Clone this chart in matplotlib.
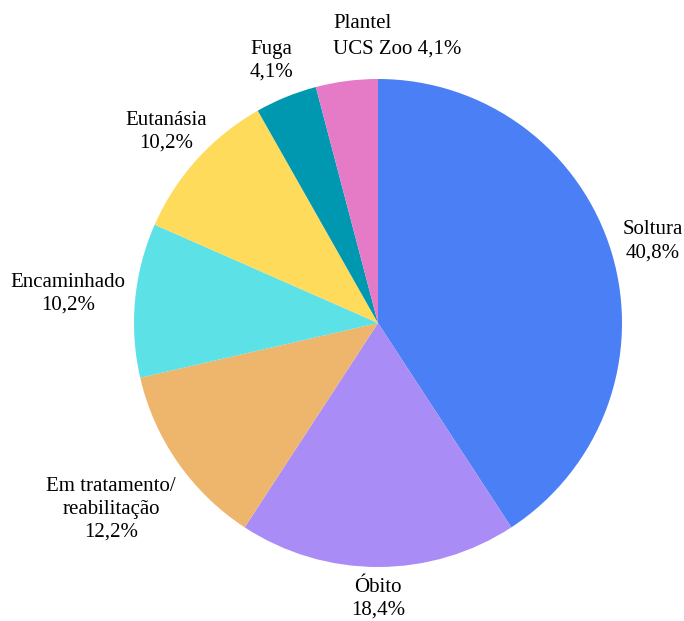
import numpy as np
import matplotlib.pyplot as plt

labels = ['Soltura', 'Óbito', 'Em tratamento/\nreabilitação', 'Encaminhado',
          'Eutanásia', 'Fuga', 'Plantel\nUCS Zoo']
values = [40.8, 18.4, 12.2, 10.2, 10.2, 4.1, 4.1]
colors = ['#4a7ff5', '#a98cf5', '#eeb56c', '#5ce1e6', '#fedb5b', '#0097b0', '#e57ac6']

# layout: label distance (in radii) for each slice
label_dist = [1.175, 1.13, 1.335, 1.275, 1.17, 1.16, 1.18]

plt.rcParams['font.family'] = ['Liberation Serif', 'DejaVu Serif']

fig = plt.figure(figsize=(6.84, 6.21), dpi=100)
ax = fig.add_axes([0, 0, 1, 1])

cx, cy, r = 378, 298, 244
wedges, _ = ax.pie(values, colors=colors, startangle=90, counterclock=False,
                   center=(cx, cy), radius=r, frame=True,
                   wedgeprops=dict(linewidth=0))
ax.set_xlim(0, 684)
ax.set_ylim(0, 621)
ax.set_aspect('equal')
ax.axis('off')

for w, lab, v, d in zip(wedges, labels, values, label_dist):
    ang = np.deg2rad((w.theta1 + w.theta2) / 2)
    pct = f'{v:.1f}'.replace('.', ',') + '%'
    if lab.startswith('Plantel'):
        ax.text(333, 621 - 36, 'Plantel\nUCS Zoo ' + pct, ha='left', va='center',
                fontsize=15, linespacing=1.45)
        continue
    x = cx + d * r * np.cos(ang)
    y = cy + d * r * np.sin(ang)
    ax.text(x, y, lab + '\n' + pct, ha='center', va='center',
            fontsize=15, linespacing=1.27)

fig.savefig('out.png', dpi=100)
